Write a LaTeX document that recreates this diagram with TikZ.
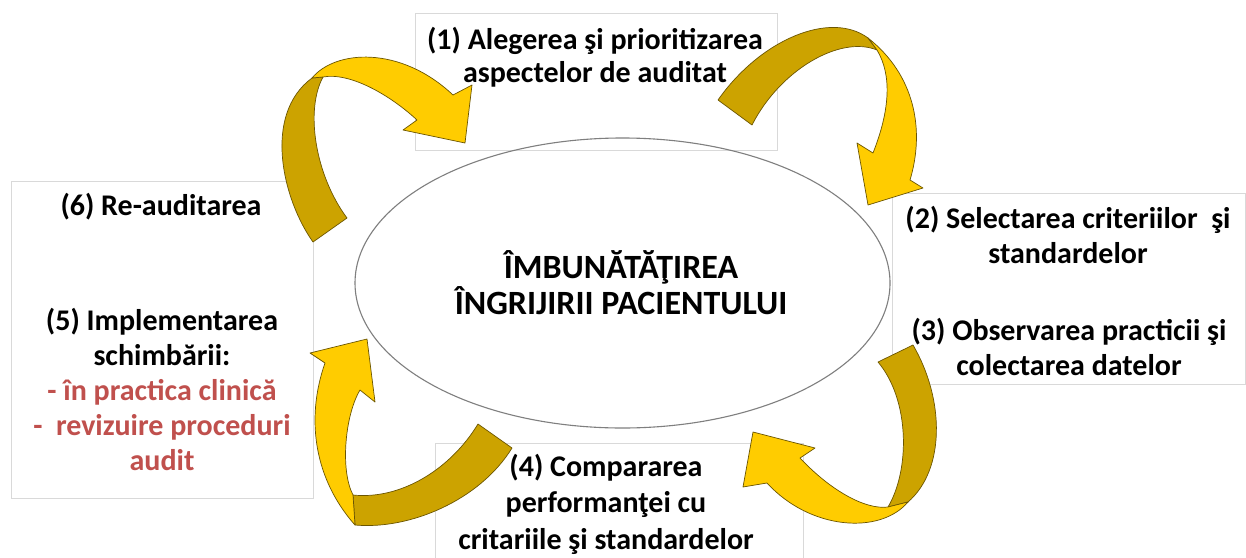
\documentclass[tikz,border=0pt]{standalone}
\usepackage{fontspec}
\setmainfont{Carlito}
\usetikzlibrary{shapes.geometric}
\definecolor{lightgold}{HTML}{FFCC00}
\definecolor{darkgold}{HTML}{CCA300}
\definecolor{edgegold}{HTML}{6B5500}
\definecolor{boxgray}{HTML}{D9D9D9}
\definecolor{ellgray}{HTML}{7F7F7F}
\definecolor{redtext}{HTML}{C0504D}
\begin{document}
\begin{tikzpicture}[x=1pt,y=-1pt,
  box/.style={draw=boxgray,line width=1pt,inner sep=0pt},
  lbl/.style={font=\bfseries\fontsize{30}{35}\selectfont,align=center,inner sep=0pt,text=black},
  darkpart/.style={fill=darkgold,draw=edgegold,line width=0.7pt,line join=round},
  lightpart/.style={fill=lightgold,draw=edgegold,line width=0.7pt,line join=round}]
\useasboundingbox (0,0) rectangle (1246,557);
\fill[white] (0,0) rectangle (1246,557);
% boxes
\node[box,minimum width=362pt,minimum height=137pt] (b1) at (596,81.5) {};
\node[box,minimum width=353pt,minimum height=191pt] (b23) at (1068.5,288.5) {};
\node[box,minimum width=302pt,minimum height=317pt] (b56) at (162,339.5) {};
\node[box,minimum width=368pt,minimum height=127pt] (b4) at (619,506.5) {};
% central ellipse
\node[draw=ellgray,line width=1.1pt,ellipse,minimum width=535pt,minimum height=290pt,inner sep=0pt] (core) at (622.5,283) {};
% texts
\node[lbl,font=\bfseries\fontsize{30}{33}\selectfont] (t1) at (595,57) {(1) Alegerea şi prioritizarea\\aspectelor de auditat};
\node[lbl] (t2) at (1068,235) {(2) Selectarea criteriilor\ \ şi\\standardelor};
\node[lbl] (t3) at (1069,347) {(3) Observarea practicii şi\\colectarea datelor};
\node[lbl,font=\bfseries\fontsize{30}{36.5}\selectfont] (t4) at (606,504) {(4) Compararea\\performanţei cu\\critariile şi standardelor};
\node[lbl] (t6) at (161,207) {(6) Re-auditarea};
\node[lbl] (t5) at (162,389) {(5) Implementarea\\schimbării:\\\textcolor{redtext}{- în practica clinică}\\\textcolor{redtext}{-\ \ revizuire proceduri}\\\textcolor{redtext}{audit}};
\node[lbl,font=\bfseries\fontsize{34}{36}\selectfont] (tc) at (621,283) {ÎMBUNĂTĂŢIREA\\ÎNGRIJIRII PACIENTULUI};
% arrow A: (6) -> (1)
\draw[darkpart] (313,242) .. controls (283,200) and (262,115) .. (312,78)
  -- (323,77) .. controls (305,110) and (315,175) .. (347,218) -- cycle;
\draw[lightpart] (312,78) .. controls (335,50) and (400,45) .. (453,95)
  -- (472,85) -- (465,143) -- (403,130) -- (417,120)
  .. controls (390,95) and (350,72) .. (323,77) -- cycle;
% arrow B: (1) -> (2)
\draw[darkpart] (718,100) .. controls (760,40) and (830,10) .. (868,38)
  -- (877,50) .. controls (840,35) and (780,70) .. (752,125) -- cycle;
\draw[lightpart] (868,38) .. controls (915,75) and (925,130) .. (910,180)
  -- (923,188) -- (868,205) -- (857,143) -- (873,153)
  .. controls (890,110) and (892,75) .. (877,50) -- cycle;
% arrow C: (3) -> (4)
\draw[darkpart] (913,345) .. controls (945,400) and (945,470) .. (908,502)
  -- (888,507) .. controls (910,470) and (910,400) .. (878,362) -- cycle;
\draw[lightpart] (908,502) .. controls (880,535) and (810,530) .. (767,483)
  -- (743,487) -- (753,432) -- (815,448) -- (800,458)
  .. controls (830,490) and (865,510) .. (888,507) -- cycle;
% arrow D: (4) -> (5)
\draw[darkpart] (353,495) .. controls (400,500) and (450,470) .. (478,424)
  -- (512,448) .. controls (480,500) and (410,530) .. (355,525) -- cycle;
\draw[lightpart] (355,525) .. controls (315,480) and (305,420) .. (325,363)
  -- (310,353) -- (367,339) -- (375,402) -- (360,390)
  .. controls (345,415) and (340,470) .. (353,495) -- cycle;
\end{tikzpicture}
\end{document}
